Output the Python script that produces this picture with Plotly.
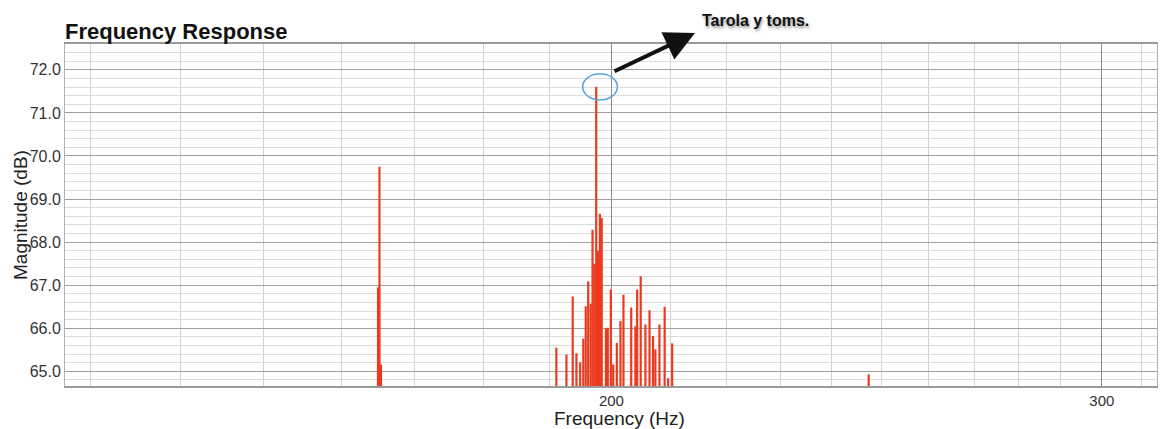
import math
import plotly.graph_objects as go

# ---- data ----
freq_hz = [164.9, 165.1, 165.3,
           191.1, 192.7, 193.7, 194.3, 194.9, 195.4, 195.8, 196.2, 196.6, 196.9,
           197.2, 197.5, 197.8, 198.1, 198.4, 199.1, 199.4, 199.9,
           200.3, 200.9, 201.5, 202.0, 203.3, 204.0, 204.3, 204.9,
           205.7, 206.4, 207.0, 207.4, 208.1, 209.0, 209.6, 210.3,
           247.4]
magnitude_db = [66.95, 69.75, 65.16,
                65.55, 65.39, 66.74, 65.42, 65.21, 65.76, 66.51, 67.09, 66.57, 68.29,
                67.5, 71.61, 67.8, 68.66, 68.56, 66.0, 66.01, 66.9,
                65.16, 65.66, 66.17, 66.78, 66.48, 66.05, 66.9, 67.21,
                66.09, 66.42, 65.82, 65.51, 66.09, 66.5, 64.84, 65.65,
                64.93]
floor_db = 60.0

x_tick_vals = [200, 300]
x_tick_text = ["200", "300"]
x_minor_vals = [130, 140, 150, 160, 170, 180, 190, 210, 220, 230, 240, 250,
                260, 270, 280, 290, 310]
y_tick_vals = [65, 66, 67, 68, 69, 70, 71, 72]
y_tick_text = ["65.0", "66.0", "67.0", "68.0", "69.0", "70.0", "71.0", "72.0"]

x_range_hz = [127.3, 314.0]
y_range_db = [64.66, 72.6]

peak_circle_hz = [195.3, 201.0]
peak_circle_db = [71.30, 71.91]

# ---- build spikes ----
xs, ys = [], []
for f, m in zip(freq_hz, magnitude_db):
    xs += [f, f, None]
    ys += [floor_db, m, None]

fig = go.Figure()
fig.add_trace(go.Scatter(x=xs, y=ys, mode="lines",
                         line=dict(color="#ec3a1f", width=2.2),
                         hoverinfo="skip", showlegend=False))

FONT = "Liberation Sans, Arial, Helvetica, sans-serif"
L, R, T, B = 65, 8, 44, 43
PW, PH = 1165 - L - R, 429 - T - B

def px(xp):
    return (xp - L) / PW

def py(yp):
    return (429 - B - yp) / PH

fig.update_layout(
    width=1165, height=429,
    margin=dict(l=L, r=R, t=T, b=B, autoexpand=False),
    paper_bgcolor="white", plot_bgcolor="white",
    font=dict(family=FONT, color="#333333"),
    title=dict(text="<b>Frequency Response</b>", x=0, xref="paper", xanchor="left",
               y=1 - 31 / 429, yref="container", yanchor="middle",
               font=dict(size=22, color="#111111", family=FONT)),
    showlegend=False,
)

fig.update_xaxes(
    type="log", automargin=False,
    range=[math.log10(x_range_hz[0]), math.log10(x_range_hz[1])],
    tickmode="array", tickvals=x_tick_vals, ticktext=x_tick_text,
    tickfont=dict(size=15, color="#333333"),
    showgrid=True, gridcolor="#8a8a8a", gridwidth=1,
    minor=dict(tickmode="array", tickvals=x_minor_vals, showgrid=True,
               gridcolor="#d2d2d2", gridwidth=1, ticks=""),
    ticks="", showline=True, linecolor="#9a9a9a", linewidth=2, mirror=True,
    zeroline=False,
)

fig.update_yaxes(
    range=y_range_db, automargin=False,
    tickmode="array", tickvals=y_tick_vals, ticktext=y_tick_text,
    tickfont=dict(size=16, color="#333333"),
    showgrid=True, gridcolor="#a0a0a0", gridwidth=1,
    minor=dict(dtick=0.2, showgrid=True, gridcolor="#dcdcdc", gridwidth=1, ticks=""),
    ticks="", showline=True, linecolor="#b0b0b0", linewidth=1, mirror=True,
    zeroline=False,
)

# axis titles
fig.add_annotation(xref="paper", yref="paper", x=px(619), y=py(418),
                   text="Frequency (Hz)", showarrow=False,
                   xanchor="center", yanchor="middle",
                   font=dict(size=19, color="#222222", family=FONT))
fig.add_annotation(xref="paper", yref="paper", x=px(20), y=0.5,
                   text="Magnitude (dB)", showarrow=False, textangle=-90,
                   xanchor="center", yanchor="middle",
                   font=dict(size=19, color="#222222", family=FONT))

# highlight ellipse around the main peak
fig.add_shape(type="circle", xref="x", yref="y",
              x0=peak_circle_hz[0], x1=peak_circle_hz[1],
              y0=peak_circle_db[0], y1=peak_circle_db[1],
              line=dict(color="#5aa6dc", width=1.5))

# arrow
fig.add_annotation(xref="paper", yref="paper",
                   x=px(695), y=py(33),
                   ax=-82, ay=39, text="", showarrow=True,
                   arrowhead=2, arrowsize=1.5, arrowwidth=4, arrowcolor="#111111",
                   standoff=0, startstandoff=0)

fig.add_annotation(xref="paper", yref="paper",
                   x=px(755), y=py(20),
                   text="<b>Tarola y toms.</b>", showarrow=False,
                   xanchor="center", yanchor="middle",
                   font=dict(size=16, color="#111111", family=FONT,
                             shadow="1px 2px 3px rgba(0,0,0,0.45)"))

fig.write_html("out.html", config={"displayModeBar": False},
               post_script="document.body.style.margin='0';document.body.style.padding='0';")
